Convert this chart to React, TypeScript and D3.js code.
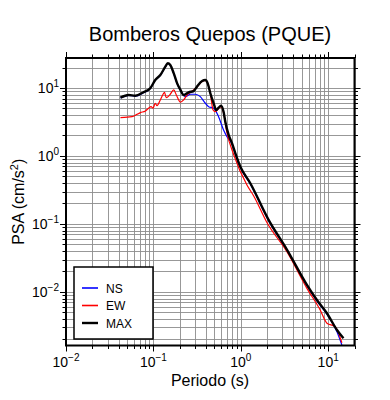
import React from 'react';
import * as d3 from 'd3';

// Spectral acceleration data
const periodsNS = [0.042, 0.052, 0.062, 0.077, 0.092, 0.105, 0.12, 0.137, 0.146, 0.156, 0.171, 0.187, 0.204, 0.222, 0.232, 0.265, 0.302, 0.344, 0.393, 0.429, 0.489, 0.557, 0.635, 0.695, 0.793, 0.865, 0.986, 1.28, 2.08, 3.37, 5.71, 7.43, 9.67, 12.6, 14.35];
const psaNS = [7.1, 7.8, 7.6, 8.5, 9.8, 13.0, 15.3, 20.4, 22.9, 21.6, 16.2, 11.5, 9.2, 7.8, 7.45, 8.08, 8.08, 7.45, 5.96, 5.31, 5.03, 3.78, 2.41, 1.92, 1.5, 1.07, 0.68, 0.39, 0.112, 0.041, 0.0124, 0.0074, 0.0047, 0.0026, 0.00166];

const periodsEW = [0.042, 0.057, 0.065, 0.071, 0.081, 0.088, 0.094, 0.099, 0.105, 0.11, 0.12, 0.129, 0.134, 0.14, 0.154, 0.171, 0.183, 0.204, 0.222, 0.243, 0.265, 0.315, 0.361, 0.393, 0.418, 0.448, 0.482, 0.511, 0.557, 0.594, 0.635, 0.695, 0.828, 1.18, 1.4, 1.99, 3.37, 5.71, 8.1, 9.67, 12.0, 14.35];
const psaEW = [3.66, 3.78, 4.1, 4.34, 4.59, 5.03, 5.31, 5.03, 5.96, 5.49, 6.67, 8.08, 8.65, 7.2, 7.9, 9.35, 7.9, 6.17, 6.67, 7.9, 8.6, 10.3, 12.5, 12.9, 11.7, 8.3, 4.74, 4.48, 5.0, 5.3, 4.29, 2.18, 1.05, 0.37, 0.26, 0.105, 0.039, 0.0113, 0.00543, 0.00347, 0.00309, 0.00179];

const periodsMAX = [0.042, 0.052, 0.062, 0.077, 0.092, 0.105, 0.12, 0.137, 0.146, 0.156, 0.171, 0.187, 0.204, 0.222, 0.253, 0.289, 0.315, 0.361, 0.393, 0.418, 0.448, 0.489, 0.525, 0.557, 0.594, 0.635, 0.665, 0.726, 0.793, 0.865, 0.986, 1.28, 2.08, 3.37, 5.71, 7.43, 9.67, 12.6, 14.96];
const psaMAX = [7.2, 7.9, 7.7, 8.65, 9.9, 13.1, 15.5, 20.6, 23.1, 21.8, 16.4, 11.7, 9.35, 7.9, 8.65, 9.0, 10.45, 12.7, 13.1, 11.7, 8.36, 5.95, 4.75, 5.13, 5.49, 4.48, 3.19, 2.04, 1.54, 1.1, 0.7, 0.4, 0.115, 0.042, 0.0127, 0.0076, 0.00486, 0.00276, 0.00208];

const xDecades = [0.01, 0.1, 1, 10];
const xExponents = ['\u22122', '\u22121', '0', '1'];
const yDecades = [10, 1, 0.1, 0.01];
const yExponents = ['1', '0', '\u22121', '\u22122'];

const seriesNames = ['NS', 'EW', 'MAX'];
const seriesColors = ['#0000ff', '#ff0000', '#000000'];

const FONT = '"Liberation Sans", Arial, Helvetica, sans-serif';

export default function App() {
  const left = 66, right = 354.5, top = 58, bottom = 345.5;

  const x = d3.scaleLog().domain([0.01, 20]).range([left, right]);
  const y = d3.scaleLog().domain([0.00163, 27.6]).range([bottom, top]);

  const xGrid = x.ticks();
  const yGrid = y.ticks();

  const series = [
    { t: periodsNS, v: psaNS, w: 1.2 },
    { t: periodsEW, v: psaEW, w: 1.2 },
    { t: periodsMAX, v: psaMAX, w: 2.4 },
  ];

  const line = d3.line<[number, number]>()
    .x(d => x(d[0]))
    .y(d => y(d[1]))
    .curve(d3.curveMonotoneX);

  const isMajor = (v: number) => Math.abs(Math.log10(v) - Math.round(Math.log10(v))) < 1e-6;
  const px = (v: number) => Math.round(v) + 0.5;

  return (
    <svg width={390} height={400} style={{ position: 'absolute', left: 0, top: 0, background: '#fff' }} fontFamily={FONT}>
      <defs>
        <clipPath id="plot">
          <rect x={left} y={top} width={right - left} height={bottom - top} />
        </clipPath>
      </defs>

      {/* grid */}
      <g stroke="#8c8c8c" strokeWidth={0.9}>
        {xGrid.map((t, i) => (
          <line key={'gx' + i} x1={px(x(t))} x2={px(x(t))} y1={top} y2={bottom} />
        ))}
        {yGrid.map((t, i) => (
          <line key={'gy' + i} x1={left} x2={right} y1={px(y(t))} y2={px(y(t))} />
        ))}
      </g>

      {/* ticks on all sides */}
      <g stroke="#000" strokeWidth={1}>
        {xGrid.map((t, i) => {
          const len = isMajor(t) ? 6 : 3.5;
          return (
            <g key={'tx' + i}>
              <line x1={px(x(t))} x2={px(x(t))} y1={bottom} y2={bottom + len} />
              <line x1={px(x(t))} x2={px(x(t))} y1={top} y2={top - len} />
            </g>
          );
        })}
        {yGrid.map((t, i) => {
          const len = isMajor(t) ? 6 : 3.5;
          return (
            <g key={'ty' + i}>
              <line x1={left} x2={left - len} y1={px(y(t))} y2={px(y(t))} />
              <line x1={right} x2={right + len} y1={px(y(t))} y2={px(y(t))} />
            </g>
          );
        })}
      </g>

      {/* curves */}
      <g clipPath="url(#plot)" fill="none" strokeLinejoin="round">
        {series.map((s, i) => (
          <path
            key={'s' + i}
            d={line(s.t.map((t, j) => [t, s.v[j]] as [number, number])) || ''}
            stroke={seriesColors[i]}
            strokeWidth={s.w}
          />
        ))}
      </g>

      {/* frame */}
      <rect x={left} y={top} width={right - left} height={bottom - top} fill="none" stroke="#000" strokeWidth={2} />

      {/* x tick labels */}
      {xDecades.map((t, i) => (
        <text key={'xl' + i} x={x(t)} y={367} textAnchor="middle" fontSize={14}>
          10<tspan fontSize={10} dy={-6}>{xExponents[i]}</tspan>
        </text>
      ))}

      {/* y tick labels */}
      {yDecades.map((t, i) => (
        <text key={'yl' + i} x={59} y={y(t) + 5} textAnchor="end" fontSize={14}>
          10<tspan fontSize={10} dy={-6}>{yExponents[i]}</tspan>
        </text>
      ))}

      {/* titles */}
      <text x={210} y={41} textAnchor="middle" fontSize={20}>Bomberos Quepos (PQUE)</text>
      <text x={210} y={386} textAnchor="middle" fontSize={16}>Periodo (s)</text>
      <text transform={`translate(24,${(top + bottom) / 2}) rotate(-90)`} textAnchor="middle" fontSize={16}>
        PSA (cm/s<tspan fontSize={11} dy={-6}>2</tspan><tspan dy={6}>)</tspan>
      </text>

      {/* legend */}
      <g>
        <rect x={74} y={267} width={79} height={72} fill="#fff" stroke="#000" strokeWidth={1.5} />
        {seriesNames.map((name, i) => (
          <g key={'lg' + i}>
            <line x1={82} x2={98} y1={288 + i * 17.5} y2={288 + i * 17.5} stroke={seriesColors[i]} strokeWidth={i === 2 ? 2.4 : 1.6} />
            <text x={106} y={292.5 + i * 17.5} fontSize={12}>{name}</text>
          </g>
        ))}
      </g>
    </svg>
  );
}
